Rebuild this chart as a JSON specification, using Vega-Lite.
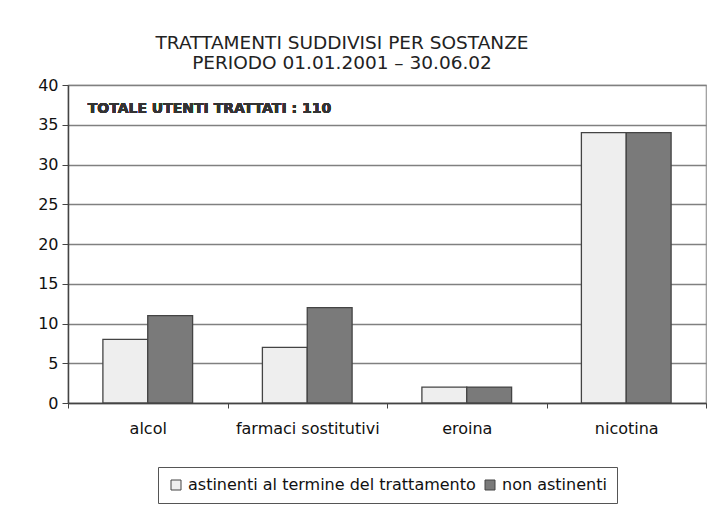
{
  "$schema": "https://vega.github.io/schema/vega-lite/v6.json",
  "width": 638,
  "height": 318,
  "autosize": {"type": "none"},
  "padding": {"left": 68, "top": 85, "right": 16, "bottom": 114},
  "background": "white",
  "title": {
    "text": ["TRATTAMENTI SUDDIVISI PER SOSTANZE", "PERIODO 01.01.2001 – 30.06.02"],
    "font": "DejaVu Sans",
    "fontSize": 18.5,
    "fontWeight": "normal",
    "lineHeight": 20,
    "color": "#222",
    "anchor": "middle",
    "dx": -45,
    "offset": 5
  },
  "data": {
    "values": [
      {"sostanza": "alcol", "esito": "astinenti al termine del trattamento", "valore": 8},
      {"sostanza": "alcol", "esito": "non astinenti", "valore": 11},
      {"sostanza": "farmaci sostitutivi", "esito": "astinenti al termine del trattamento", "valore": 7},
      {"sostanza": "farmaci sostitutivi", "esito": "non astinenti", "valore": 12},
      {"sostanza": "eroina", "esito": "astinenti al termine del trattamento", "valore": 2},
      {"sostanza": "eroina", "esito": "non astinenti", "valore": 2},
      {"sostanza": "nicotina", "esito": "astinenti al termine del trattamento", "valore": 34},
      {"sostanza": "nicotina", "esito": "non astinenti", "valore": 34}
    ]
  },
  "layer": [
    {
      "mark": {"type": "bar", "stroke": "#444", "strokeWidth": 1.3},
      "encoding": {
        "x": {
          "field": "sostanza", "type": "nominal",
          "sort": ["alcol", "farmaci sostitutivi", "eroina", "nicotina"],
          "scale": {"paddingInner": 0, "paddingOuter": 0},
          "axis": {
            "title": null, "labelAngle": 0, "labelFontSize": 16, "labelFont": "DejaVu Sans",
            "labelColor": "#111", "labelPadding": 12, "tickBand": "extent", "tickSize": 5,
            "tickColor": "#444", "domainColor": "#444", "domainWidth": 1.5
          }
        },
        "xOffset": {
          "field": "esito", "type": "nominal",
          "scale": {"paddingInner": 0, "paddingOuter": 0.778}
        },
        "y": {
          "field": "valore", "type": "quantitative",
          "scale": {"domain": [0, 40]},
          "axis": {
            "title": null, "values": [0, 5, 10, 15, 20, 25, 30, 35, 40], "labelOverlap": false,
            "labelFontSize": 16, "labelFont": "DejaVu Sans", "labelColor": "#111",
            "tickSize": 6, "tickColor": "#444", "domainColor": "#444", "domainWidth": 1.5,
            "gridColor": "#808080", "gridWidth": 1.6, "labelPadding": 4
          }
        },
        "fill": {
          "field": "esito", "type": "nominal",
          "scale": {"range": ["#eeeeee", "#7a7a7a"]},
          "legend": {
            "title": null, "orient": "bottom", "direction": "horizontal",
            "symbolType": "square", "symbolSize": 100, "symbolStrokeColor": "#444", "symbolStrokeWidth": 1,
            "labelFontSize": 16, "labelFont": "DejaVu Sans", "labelColor": "#111", "labelLimit": 0,
            "strokeColor": "#555", "padding": 10, "offset": 31, "columnPadding": 6, "labelOffset": 4
          }
        }
      }
    },
    {
      "mark": {"type": "text", "align": "left", "baseline": "middle", "dx": -60, "font": "DejaVu Sans", "fontSize": 14, "fontWeight": "bold", "color": "#333"},
      "encoding": {
        "x": {
          "datum": "alcol",
          "axis": {
            "title": null, "labelAngle": 0, "labelFontSize": 16, "labelFont": "DejaVu Sans",
            "labelColor": "#111", "labelPadding": 12, "tickBand": "extent", "tickSize": 5,
            "tickColor": "#444", "domainColor": "#444", "domainWidth": 1.5
          }
        },
        "y": {
          "datum": 37,
          "axis": {
            "title": null, "values": [0, 5, 10, 15, 20, 25, 30, 35, 40], "labelOverlap": false,
            "labelFontSize": 16, "labelFont": "DejaVu Sans", "labelColor": "#111",
            "tickSize": 6, "tickColor": "#444", "domainColor": "#444", "domainWidth": 1.5,
            "gridColor": "#808080", "gridWidth": 1.6, "labelPadding": 4
          }
        },
        "text": {"value": "TOTALE UTENTI TRATTATI : 110"}
      }
    }
  ],
  "config": {
    "view": {"stroke": "#999", "strokeWidth": 1.2},
    "legend": {"layout": {"bottom": {"anchor": "middle"}}}
  }
}
